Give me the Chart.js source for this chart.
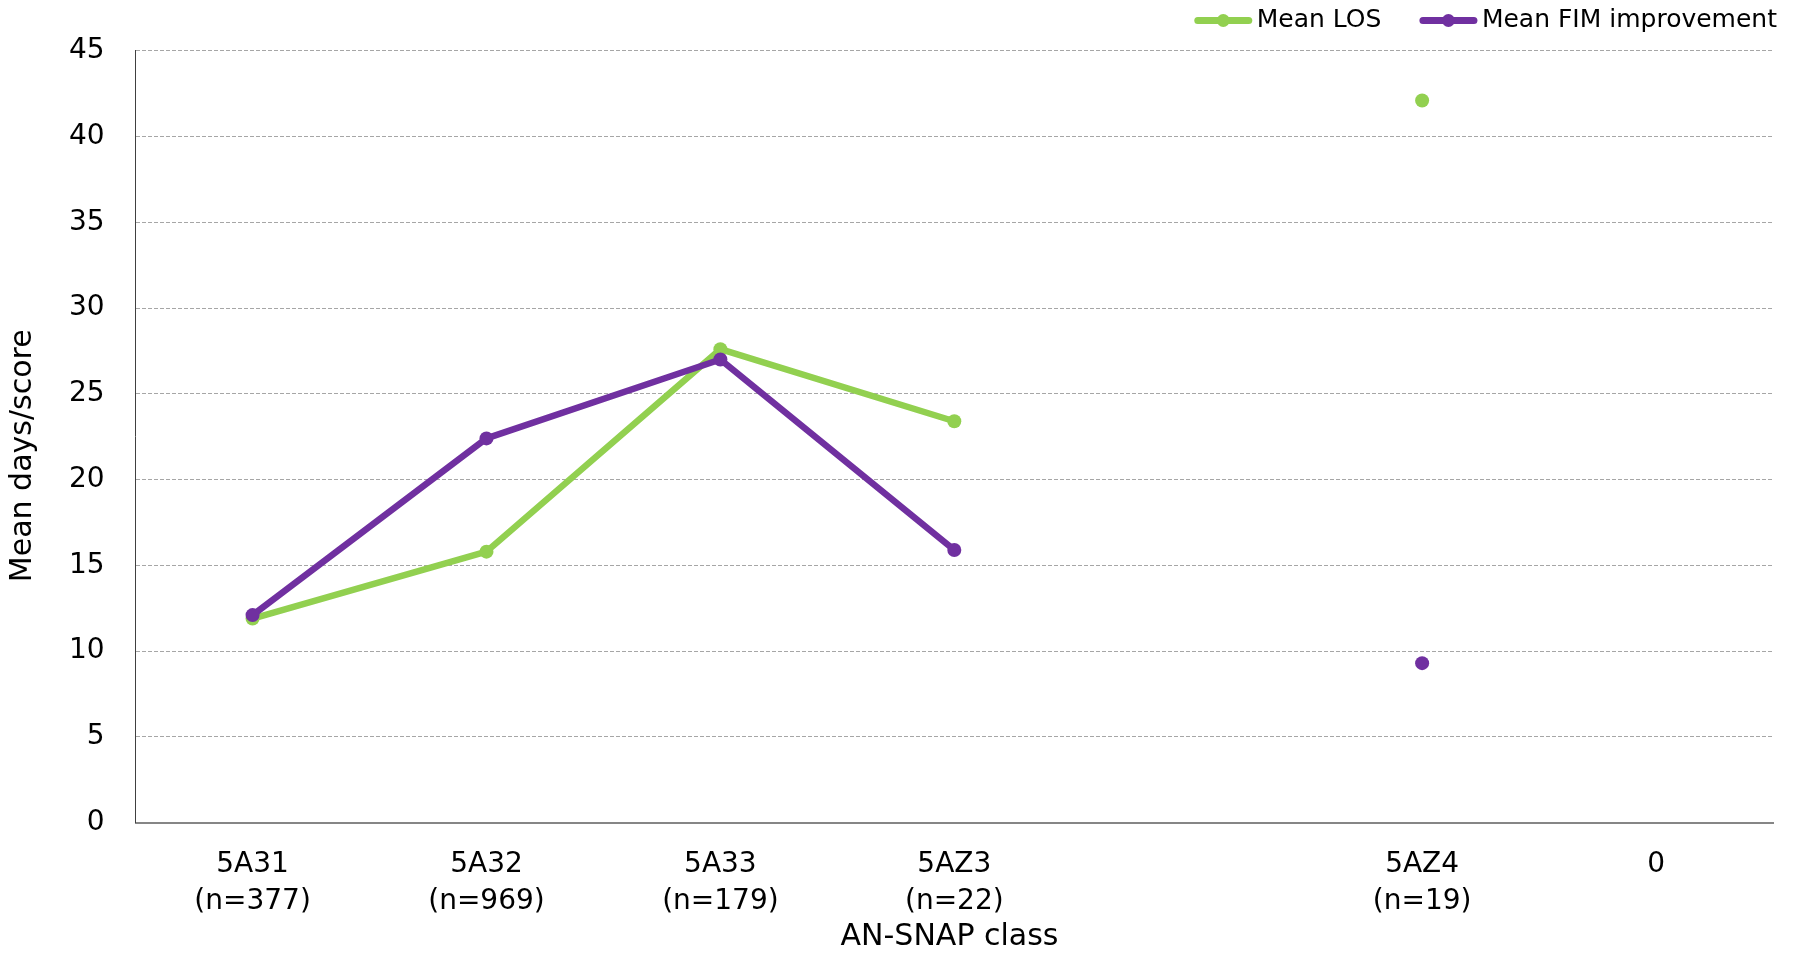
<!DOCTYPE html>
<html><head><meta charset="utf-8">
<script src="https://cdn.jsdelivr.net/npm/chart.js@4.4.0/dist/chart.umd.min.js"></script>
<style>html,body{margin:0;padding:0;background:#fff}canvas{display:block}</style>
</head><body>
<canvas id="c" width="1802" height="955"></canvas>
<script>
const categories = [['5A31','(n=377)'],['5A32','(n=969)'],['5A33','(n=179)'],['5AZ3','(n=22)'],'',['5AZ4','(n=19)'],'0'];
const meanLOS = [11.9, 15.8, 27.6, 23.4, null, 42.1, null];
const meanFIM = [12.1, 22.4, 27.0, 15.9, null, 9.3, null];
const seriesNames = ['Mean LOS','Mean FIM improvement'];
const seriesColors = ['#92D050','#7030A0'];
const yMin = 0, yMax = 45, yStep = 5;
const xTitle = 'AN-SNAP class';
const yTitle = 'Mean days/score';
const FAMILY = "'DejaVu Sans', sans-serif";

const legendPlugin = {
  id: 'excelLegend',
  afterDraw(chart) {
    const ctx = chart.ctx;
    const ds = chart.data.datasets;
    ctx.save();
    ctx.font = '25px ' + FAMILY;
    ctx.textBaseline = 'middle';
    ctx.textAlign = 'left';
    const yLine = 20.5, yText = 20.5, lineLen = 58, gapText = 4.5, gapItem = 38;
    let right = chart.width - 25;
    for (let i = ds.length - 1; i >= 0; i--) {
      const w = ctx.measureText(ds[i].label).width;
      const tx = right - w;
      ctx.fillStyle = '#000';
      ctx.fillText(ds[i].label, tx, yText);
      const x1 = tx - gapText, x0 = x1 - lineLen;
      ctx.strokeStyle = ds[i].borderColor;
      ctx.lineWidth = 7; ctx.lineCap = 'round';
      ctx.beginPath(); ctx.moveTo(x0 + 3.5, yLine); ctx.lineTo(x1 - 3.5, yLine); ctx.stroke();
      ctx.fillStyle = ds[i].borderColor;
      ctx.beginPath(); ctx.arc((x0 + x1) / 2, yLine, 6.5, 0, Math.PI * 2); ctx.fill();
      right = x0 - gapItem;
    }
    ctx.restore();
  }
};

function makeDs(label, data, color, order) {
  return {
    label, data, order,
    borderColor: color, backgroundColor: color,
    pointBackgroundColor: color, pointBorderColor: color,
    borderWidth: 6.5, pointRadius: 7, pointHoverRadius: 7, pointBorderWidth: 0,
    tension: 0, spanGaps: false, fill: false,
    borderCapStyle: 'round', borderJoinStyle: 'round'
  };
}

new Chart(document.getElementById('c'), {
  type: 'line',
  data: {
    labels: categories,
    datasets: [
      makeDs(seriesNames[0], meanLOS, seriesColors[0], 1),
      makeDs(seriesNames[1], meanFIM, seriesColors[1], 0)
    ]
  },
  options: {
    responsive: false, animation: false, devicePixelRatio: 1,
    layout: { padding: { top: 50.7, right: 29, bottom: 0, left: 0 } },
    plugins: { legend: { display: false }, tooltip: { enabled: false } },
    scales: {
      x: {
        offset: true,
        grid: { display: false, drawTicks: false },
        border: { display: true, color: '#868686', width: 2 },
        ticks: { font: { family: FAMILY, size: 28, lineHeight: 1.333 }, color: '#000', padding: 23, maxRotation: 0, minRotation: 0, autoSkip: false },
        title: { display: true, text: xTitle + ' ', font: { family: FAMILY, size: 30, lineHeight: 1.2 }, color: '#000', padding: { top: 0, bottom: 0 } },
        afterFit(s) { s.height = 132.3; }
      },
      y: {
        min: yMin, max: yMax,
        ticks: { stepSize: yStep, font: { family: FAMILY, size: 28 }, color: '#000', padding: 31 },
        grid: { color: '#a6a6a6', lineWidth: 1, drawTicks: false },
        border: { display: true, color: '#404040', width: 1, dash: [4, 2] },
        title: { display: true, text: yTitle + '    ', font: { family: FAMILY, size: 30, lineHeight: 1.2 }, color: '#000', padding: { top: 5, bottom: 0 } },
        afterFit(s) { s.width = 135.6; }
      }
    }
  },
  plugins: [legendPlugin]
});
</script>
</body></html>
